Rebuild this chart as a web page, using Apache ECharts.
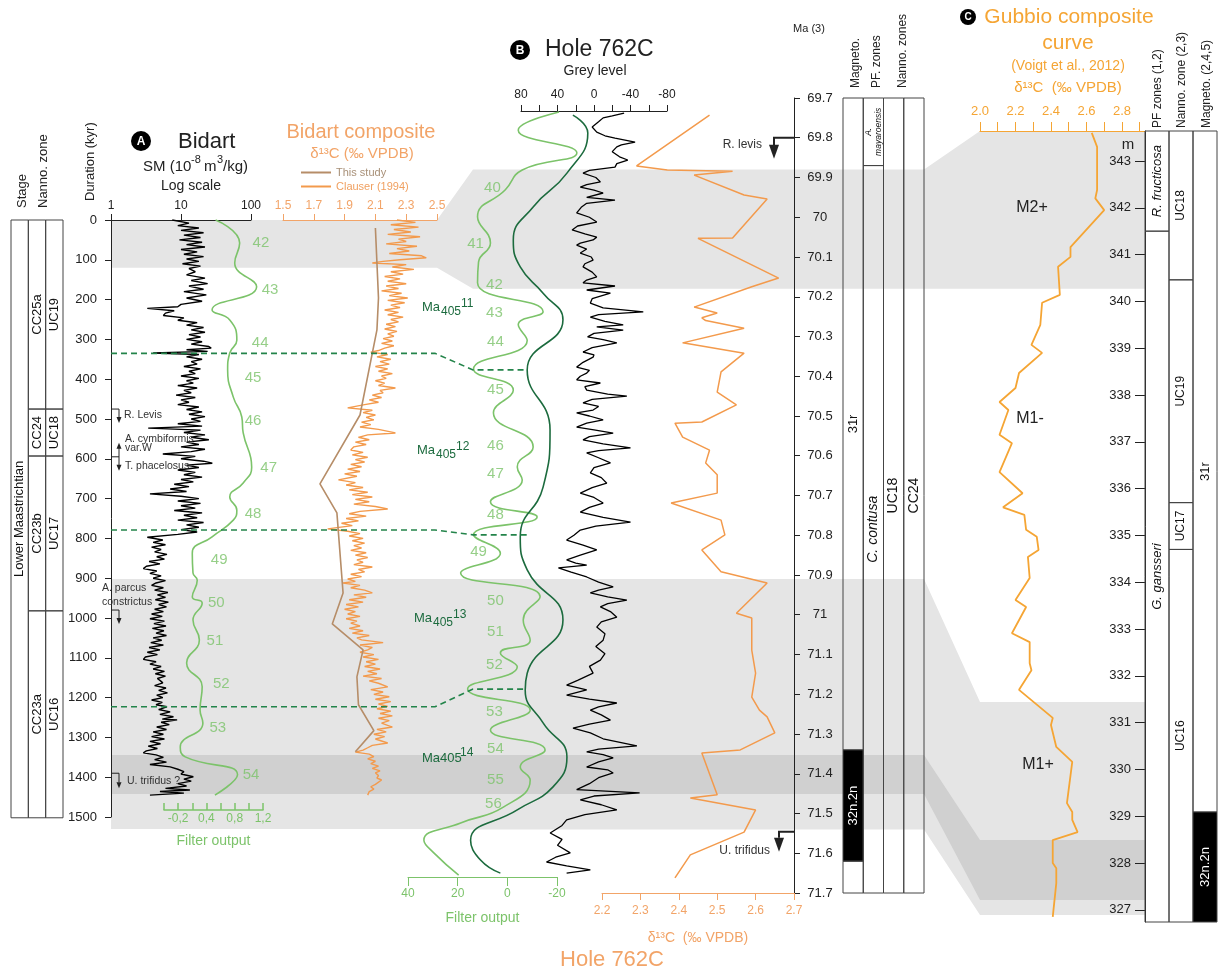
<!DOCTYPE html>
<html>
<head>
<meta charset="utf-8">
<script src="https://cdn.jsdelivr.net/npm/echarts@6/dist/echarts.min.js"></script>
<style>
  html, body { margin: 0; padding: 0; background: #fff; }
  #chart { width: 1218px; height: 976px; }
</style>
</head>
<body>
<div id="chart"></div>
<script>
// ---------- Bidart (panel A), depth in kyr ----------
const smBidart = [[0,7.5],[8,13],[14,9],[20,18],[26,10],[32,21],[38,11],[44,19],[50,9.5],[56,20],[62,12],[68,22],[74,10],[80,17],[86,11],[92,21],[98,12],[104,18],[110,10.5],[116,19],[122,13],[130,16],[138,12],[146,22],[152,14],[160,24],[166,13],[174,21],[180,11],[188,23],[196,12],[204,20],[212,10],[218,9],[222,3.3],[228,8],[234,6],[240,5.6],[246,11],[252,9],[258,17],[264,12],[270,21],[276,14],[282,22],[288,13],[294,19],[300,12],[306,20],[312,14],[318,25],[322,27],[326,12],[330,24],[334,4.0],[338,18],[344,12],[350,20],[356,14],[362,17],[368,11],[374,19],[380,13],[386,16],[392,10],[398,18],[404,12],[410,15],[416,9],[422,17],[428,11],[434,14],[440,8.5],[446,16],[452,10],[458,13],[464,9],[470,18],[476,12],[482,20],[488,13],[494,22],[500,14],[506,19],[512,9],[518,20],[523,3.4],[528,19],[534,11],[540,22],[546,14],[552,25],[558,12],[564,18],[570,10],[576,22],[582,14],[588,5.5],[594,16],[600,10],[606,21],[611,28],[616,12],[622,18],[628,9],[634,16],[640,11],[646,20],[652,10],[658,15],[664,8],[670,13],[676,7],[682,12],[688,3.6],[694,10],[700,18],[706,9],[712,19],[718,10],[724,16],[730,8],[736,20],[742,11],[748,17],[754,9],[760,21],[766,12],[772,18],[778,10],[784,17],[790,9],[797,3.3],[804,5.5],[810,4],[816,6],[822,3.8],[828,5.2],[834,4.2],[840,6.3],[846,4.5],[852,5.8],[858,3.5],[864,5],[870,3.2],[876,2.9],[882,4.5],[888,3.6],[894,5.2],[900,4],[906,6],[912,4.4],[918,3.8],[924,5.6],[930,4.2],[936,6.5],[942,4.6],[948,6],[954,4.3],[960,6.6],[966,4.8],[972,6.2],[978,4.2],[984,5.6],[990,3.8],[996,5.4],[1002,3.6],[1008,5.8],[1014,4.1],[1020,6.1],[1026,3.9],[1032,5.7],[1038,4.4],[1044,6.2],[1050,4],[1056,5.3],[1062,3.7],[1068,5.6],[1074,3.5],[1080,5],[1086,3.3],[1092,4.6],[1098,3.1],[1104,2.9],[1110,4.4],[1116,3.6],[1122,5.2],[1128,4],[1134,5.8],[1140,4.3],[1146,6],[1152,4.6],[1158,5.1],[1163,5.5],[1170,4.2],[1176,6.1],[1182,4.8],[1188,6.4],[1194,4.5],[1200,5.5],[1206,3.8],[1212,5.4],[1218,4.4],[1223,6.3],[1230,4.8],[1236,7],[1242,5],[1248,7.8],[1254,5.4],[1256,8.8],[1262,5.2],[1268,6.8],[1274,4.5],[1280,6.2],[1286,4],[1292,5.6],[1298,3.8],[1304,5.8],[1310,3.6],[1316,5.1],[1322,3.4],[1328,4.6],[1334,3.2],[1339,2.9],[1344,4.4],[1350,5.6],[1356,4.2],[1362,6.2],[1368,3.6],[1374,7],[1380,9],[1386,11],[1392,10],[1399,15],[1405,11],[1410,14],[1416,9],[1422,12],[1428,6],[1432,13.4],[1436,5],[1440,11],[1445,3.6]];

const filterBidart = [[0,0.33],[58,0.67],[108,0.60],[168,0.91],[226,0.28],[251,0.53],[302,0.63],[334,0.53],[377,0.50],[445,0.58],[495,0.70],[535,0.72],[621,0.84],[661,0.72],[696,0.53],[729,0.63],[754,0.58],[796,0.28],[837,0.00],[887,0.01],[905,0.07],[947,0.00],[962,0.14],[1005,0.01],[1055,0.10],[1113,-0.08],[1173,0.14],[1231,0.11],[1264,0.15],[1324,-0.17],[1349,-0.10],[1394,0.64],[1445,0.32]];
const filterTicksA = ['', '-0,2', '', '0,4', '', '0,8', '', '1,2'];
const cycleNumA = ['42','43','44','45','46','47','48','49','50','51','52','53','54'];
const cycleXA   = [0.97,1.10,0.96,0.86,0.86,1.08,0.86,0.38,0.34,0.32,0.41,0.36,0.83];
const cycleKyrA = [58,176,309,397,505,623,739,854,962,1058,1166,1276,1394];

const d13cThisStudy = [[20,2.10],[196,2.12],[276,2.11],[490,2.00],[663,1.74],[736,1.85],[937,1.89],[1015,1.82],[1080,2.02],[1148,1.98],[1218,1.99],[1283,2.09],[1336,1.97]];
const d13cClauser = [[0,2.24],[6,2.36],[12,2.20],[18,2.38],[24,2.22],[30,2.33],[36,2.18],[42,2.39],[48,2.25],[54,2.30],[60,2.17],[66,2.37],[72,2.24],[78,2.32],[84,2.19],[90,2.40],[95,2.43],[100,2.26],[104,2.15],[108,2.08],[112,2.30],[118,2.21],[124,2.35],[130,2.20],[136,2.28],[142,2.16],[148,2.26],[154,2.18],[160,2.30],[166,2.17],[172,2.25],[178,2.14],[184,2.27],[190,2.19],[196,2.31],[202,2.18],[208,2.29],[214,2.20],[220,2.26],[226,2.16],[232,2.25],[238,2.18],[244,2.28],[250,2.20],[256,2.25],[262,2.17],[268,2.23],[274,2.16],[280,2.24],[286,2.18],[292,2.22],[298,2.15],[304,2.21],[310,2.14],[316,2.22],[322,2.16],[328,2.12],[332,2.07],[338,2.18],[344,2.11],[350,2.20],[356,2.13],[362,2.19],[368,2.10],[374,2.18],[380,2.12],[386,2.21],[392,2.14],[398,2.17],[404,2.10],[410,2.16],[416,2.12],[422,2.23],[428,2.13],[434,2.15],[440,2.08],[446,2.14],[452,2.06],[458,2.12],[464,2.03],[472,1.92],[478,2.08],[484,2.02],[490,2.10],[496,2.04],[502,2.09],[508,2.01],[514,2.07],[520,2.00],[526,2.12],[535,2.23],[540,2.05],[546,1.99],[552,2.06],[558,1.97],[564,2.04],[570,1.96],[578,1.94],[584,2.02],[590,1.95],[596,2.05],[602,1.97],[608,2.03],[614,1.94],[620,2.01],[626,1.92],[632,2.00],[638,1.90],[644,1.98],[653,1.86],[660,1.97],[666,1.91],[672,2.02],[678,1.93],[684,2.05],[690,1.95],[696,2.08],[702,1.97],[708,2.06],[714,1.96],[720,2.10],[726,2.18],[732,2.00],[738,1.93],[744,2.04],[750,1.91],[756,1.99],[762,1.88],[768,1.95],[776,1.79],[782,1.92],[788,2.00],[794,1.93],[800,2.02],[806,1.95],[812,2.03],[818,1.96],[824,2.01],[830,1.94],[836,2.04],[842,1.97],[848,2.05],[854,1.98],[860,2.02],[866,1.96],[872,2.08],[878,1.99],[884,2.03],[890,1.94],[896,2.01],[902,1.92],[908,1.97],[912,1.89],[918,2.00],[924,1.94],[930,2.03],[937,2.08],[942,1.96],[948,2.04],[954,1.93],[960,2.02],[966,1.91],[972,1.99],[978,1.90],[984,1.97],[990,1.92],[996,2.00],[1002,1.91],[1008,1.98],[1013,1.94],[1020,2.00],[1026,1.93],[1032,2.02],[1038,1.95],[1044,2.06],[1050,1.98],[1055,2.01],[1062,2.15],[1068,2.00],[1074,2.08],[1080,2.05],[1086,2.00],[1092,2.09],[1098,2.02],[1104,2.12],[1110,2.04],[1116,2.10],[1122,2.03],[1128,2.13],[1134,2.05],[1140,2.11],[1146,2.02],[1152,2.14],[1158,2.06],[1164,2.12],[1173,2.18],[1180,2.07],[1186,2.15],[1192,2.09],[1198,2.19],[1204,2.10],[1210,2.20],[1216,2.12],[1222,2.18],[1228,2.11],[1234,2.20],[1240,2.13],[1246,2.21],[1252,2.12],[1258,2.19],[1264,2.14],[1274,2.21],[1280,2.11],[1286,2.17],[1292,2.09],[1298,2.16],[1304,2.10],[1314,2.18],[1320,2.08],[1326,2.05],[1332,2.02],[1337,1.97],[1342,2.06],[1348,2.09],[1354,2.05],[1360,2.10],[1366,2.07],[1372,2.12],[1378,2.08],[1384,2.13],[1389,2.10],[1396,2.12],[1402,2.11],[1407,2.14],[1412,2.15],[1418,2.10],[1424,2.07],[1430,2.09],[1436,2.06],[1440,2.05],[1445,2.05]];

// [column, top, base, label, style, fontSize]
const stratBidart = [
  [0, 0, 1502, 'Lower Maastrichtian', 'plain', 13],
  [1, 0, 475, 'CC25a', 'plain', 13], [1, 475, 593, 'CC24', 'plain', 13],
  [1, 593, 982, 'CC23b', 'plain', 13], [1, 982, 1502, 'CC23a', 'plain', 13],
  [2, 0, 475, 'UC19', 'plain', 13], [2, 475, 593, 'UC18', 'plain', 13],
  [2, 593, 982, 'UC17', 'plain', 13], [2, 982, 1502, 'UC16', 'plain', 13]
];

// ---------- Hole 762C (panel B), age in Ma ----------
const greyLevel762C = [[69.738,-33],[69.745,-20],[69.750,-10],[69.760,-5],[69.773,2],[69.786,-3],[69.795,-12],[69.801,-23],[69.811,-45],[69.818,-30],[69.823,-25],[69.835,-20],[69.848,-28],[69.856,-37],[69.865,-25],[69.874,-23],[69.882,5],[69.889,12],[69.900,-2],[69.911,-7],[69.918,8],[69.924,15],[69.932,0],[69.939,-10],[69.950,8],[69.957,-23],[69.965,8],[69.975,14],[69.989,19],[70.000,5],[70.012,-3],[70.022,18],[70.032,24],[70.042,10],[70.050,-3],[70.057,1],[70.065,15],[70.070,19],[70.080,8],[70.090,15],[70.100,3],[70.108,1],[70.117,10],[70.125,12],[70.138,2],[70.150,-3],[70.158,8],[70.165,12],[70.173,-23],[70.183,8],[70.191,-18],[70.205,2],[70.216,4],[70.228,-10],[70.238,-54],[70.245,-5],[70.251,4],[70.262,-12],[70.271,-32],[70.276,-3],[70.284,-32],[70.292,0],[70.301,7],[70.308,-10],[70.316,-25],[70.328,2],[70.339,12],[70.346,0],[70.352,1],[70.365,12],[70.377,19],[70.385,5],[70.392,8],[70.400,15],[70.409,19],[70.417,-7],[70.426,10],[70.435,8],[70.445,-15],[70.450,-36],[70.458,2],[70.467,12],[70.476,-5],[70.485,1],[70.492,19],[70.500,5],[70.510,-10],[70.518,8],[70.528,19],[70.535,0],[70.543,-21],[70.552,5],[70.560,12],[70.570,-10],[70.580,-40],[70.587,-5],[70.593,8],[70.605,-5],[70.618,-18],[70.630,0],[70.643,4],[70.655,-8],[70.669,-14],[70.680,2],[70.694,15],[70.705,0],[70.719,-10],[70.730,5],[70.742,15],[70.755,-10],[70.767,-40],[70.777,-2],[70.787,15],[70.800,22],[70.812,30],[70.825,12],[70.837,-3],[70.850,15],[70.862,30],[70.870,20],[70.875,8],[70.882,39],[70.893,25],[70.905,8],[70.918,-5],[70.930,-21],[70.938,-5],[70.945,4],[70.955,-15],[70.963,-36],[70.972,-15],[70.980,-7],[70.992,-18],[71.006,-25],[71.018,-8],[71.031,-3],[71.048,-12],[71.064,-10],[71.080,-2],[71.098,-12],[71.114,-7],[71.130,5],[71.147,1],[71.165,18],[71.177,30],[71.189,8],[71.202,30],[71.212,5],[71.222,-25],[71.232,-5],[71.240,4],[71.252,-8],[71.265,-18],[71.275,5],[71.285,23],[71.297,4],[71.312,-10],[71.330,-47],[71.338,-5],[71.345,8],[71.352,-10],[71.360,-21],[71.370,-5],[71.383,8],[71.390,-15],[71.398,-21],[71.410,-5],[71.425,5],[71.440,19],[71.448,-50],[71.456,0],[71.466,15],[71.478,-8],[71.491,-25],[71.503,10],[71.516,30],[71.530,35],[71.549,48],[71.565,35],[71.580,40],[71.599,26],[71.610,42],[71.622,52],[71.632,30],[71.642,4],[71.650,30]];

const filterShort762C = [[69.735,-20.8],[69.781,-4.4],[69.838,-28],[69.881,-6],[69.931,0.8],[69.999,12],[70.065,6.8],[70.113,11.6],[70.165,12],[70.238,-14.4],[70.270,-4.4],[70.310,-8],[70.382,13.6],[70.435,-2.4],[70.492,5.6],[70.578,-10.4],[70.628,-4],[70.661,-6],[70.716,6.8],[70.754,-12],[70.799,13.6],[70.845,2.8],[70.895,18.8],[70.955,-13.2],[71.013,-6.4],[71.064,-9.2],[71.096,2.8],[71.131,-4],[71.187,16],[71.240,-9.2],[71.290,6.8],[71.340,-15.2],[71.383,-5.2],[71.416,-9.2],[71.484,1.6],[71.524,18.8],[71.567,33.6],[71.599,29.6],[71.655,19.6]];
const filter405k762C = [[69.743,-26.4],[69.788,-32.4],[69.889,-24],[69.974,-10.4],[70.057,-2.4],[70.125,-5.2],[70.191,-14.4],[70.258,-22.4],[70.384,-8],[70.535,-17.2],[70.679,-14.4],[70.804,-5.2],[70.887,-8],[71.013,-22.4],[71.147,-8],[71.189,-7.2],[71.272,-14.4],[71.358,-24],[71.433,-18.4],[71.491,-4],[71.567,14.8],[71.617,10.8],[71.650,2.8]];
const cycleNumB = ['40','41','42','43','44','45','46','47','48','49','50','51','52','53','54','55','56'];
const cycleXB   = [6,12.8,5.2,5.2,4.8,4.8,4.8,4.8,4.8,11.6,4.8,4.8,5.2,5.2,4.8,4.8,5.6];
const cycleMaB  = [69.926,70.067,70.170,70.241,70.314,70.435,70.575,70.646,70.749,70.842,70.965,71.043,71.126,71.245,71.338,71.416,71.476];

const d13c762C = [[69.743,2.48],[69.871,2.29],[69.881,2.37],[69.884,2.54],[69.894,2.44],[69.944,2.57],[69.954,2.63],[70.052,2.54],[70.053,2.45],[70.153,2.66],[70.175,2.59],[70.226,2.44],[70.241,2.50],[70.253,2.46],[70.260,2.47],[70.279,2.57],[70.316,2.41],[70.342,2.57],[70.389,2.51],[70.440,2.50],[70.472,2.55],[70.515,2.46],[70.518,2.39],[70.553,2.41],[70.586,2.48],[70.618,2.47],[70.648,2.50],[70.694,2.50],[70.719,2.38],[70.762,2.51],[70.799,2.52],[70.837,2.46],[70.892,2.51],[70.920,2.63],[70.996,2.55],[71.008,2.59],[71.089,2.59],[71.147,2.60],[71.207,2.59],[71.240,2.61],[71.257,2.63],[71.297,2.65],[71.340,2.56],[71.348,2.46],[71.453,2.50],[71.461,2.43],[71.491,2.60],[71.547,2.57],[71.604,2.43],[71.662,2.39]];

const strat762C = [
  [0, 69.7, 71.34, '31r', 'plain', 13], [0, 71.34, 71.62, '32n.2n', 'black', 13], [0, 71.62, 71.7, '', 'plain', 13],
  [1, 69.7, 69.87, 'A.\nmayaroensis', 'italic', 8.5], [1, 69.87, 71.7, 'C. contusa', 'italic', 14],
  [2, 69.7, 71.7, 'UC18', 'plain', 14], [3, 69.7, 71.7, 'CC24', 'plain', 14]
];

// ---------- Gubbio (panel C), depth in m ----------
const d13cGubbio = [[343.6,2.63],[343.3,2.66],[342.38,2.66],[342.2,2.65],[341.95,2.70],[341.16,2.51],[340.95,2.51],[340.74,2.44],[340.14,2.45],[339.97,2.35],[339.5,2.34],[339.07,2.29],[338.9,2.35],[338.47,2.22],[338.15,2.20],[337.85,2.11],[337.68,2.16],[337.15,2.11],[336.97,2.18],[336.35,2.11],[335.9,2.24],[335.6,2.13],[335.44,2.25],[335.12,2.26],[334.97,2.32],[334.69,2.33],[334.54,2.27],[334.09,2.28],[333.62,2.20],[333.47,2.26],[332.91,2.18],[332.72,2.28],[332.27,2.28],[332.12,2.29],[331.7,2.22],[331.1,2.41],[330.95,2.40],[330.48,2.43],[330.16,2.52],[329.28,2.49],[329.09,2.52],[328.92,2.52],[328.66,2.55],[328.49,2.41],[328.0,2.41],[327.89,2.43],[327.57,2.43],[326.85,2.41]];
const metreTicks = [327,328,329,330,331,332,333,334,335,336,337,338,339,340,341,342,343];
const gubbioTicks = [2.0,2.1,2.2,2.3,2.4,2.5,2.6,2.7,2.8,2.9];
const gubbioLabels = [2.0,2.2,2.4,2.6,2.8];

const stratGubbio = [
  [0, 343.64, 341.5, 'R. fructicosa', 'italic', 13], [0, 341.5, 326.74, 'G. gansseri', 'italic', 13],
  [1, 343.64, 340.46, 'UC18', 'plain', 12], [1, 340.46, 335.7, 'UC19', 'plain', 12],
  [1, 335.7, 334.7, 'UC17', 'plain', 12], [1, 334.7, 326.74, 'UC16', 'plain', 12],
  [2, 343.64, 329.09, '31r', 'plain', 13], [2, 329.09, 326.74, '32n.2n', 'black', 13]
];

// ---------- correlations ----------
const bandBidart = [[0, 120], [902, 1530], [1344, 1442]];
const band762C   = [[69.88, 70.18], [70.91, 71.54], [71.353, 71.451]];
const bandGubbio = [[343.64, 340.27], [331.44, 326.89], [328.49, 327.21]];
const bandColor  = ['#e5e5e5', '#e5e5e5', '#d0d0d0'];
const tieBidart = [335, 779, 1223];
const tie762C   = [70.384, 70.799, 71.187];

const F = '"Liberation Sans", Arial, sans-serif';
const INK = '#222';
const GREEN_L = '#7cc36a';
const GREEN_D = '#1c6b3e';
const ORANGE = '#f39a4c';
const ORANGE_AX = '#f2a468';
const BROWN = '#b68d68';
const GUBBIO = '#f5a534';

const chart = echarts.init(document.getElementById('chart'));

function stratRenderer(zones) {
  return function (params, api) {
    const z = zones[params.dataIndex];
    const p0 = api.coord([z[0], z[1]]);
    const p1 = api.coord([z[0] + 1, z[2]]);
    const x = Math.min(p0[0], p1[0]), y = Math.min(p0[1], p1[1]);
    const w = Math.abs(p1[0] - p0[0]), h = Math.abs(p1[1] - p0[1]);
    const dark = z[4] === 'black';
    return {
      type: 'group',
      children: [
        { type: 'rect', shape: { x: x, y: y, width: w, height: h },
          style: { fill: dark ? '#000' : 'none', stroke: '#444', lineWidth: 1 } },
        { type: 'text', x: x + w / 2, y: y + h / 2, rotation: Math.PI / 2,
          style: { text: z[3], fontSize: z[5], fontFamily: F, fontStyle: z[4] === 'italic' ? 'italic' : 'normal',
                   fill: dark ? '#fff' : '#111', align: 'center', verticalAlign: 'middle', lineHeight: 10 } }
      ]
    };
  };
}

const noSplit = { splitLine: { show: false } };
function hidden(grid, min, max, inverse) {
  return Object.assign({ gridIndex: grid, type: 'value', min: min, max: max, inverse: !!inverse, show: false }, noSplit);
}
function line1(color, w) { return { onZero: false, lineStyle: { color: color, width: w || 1 } }; }

// the B filter curves swing past the drawn -20..40 axis, so they are plotted on a wider
// hidden axis with the same scale (149 px per 60 units)
const bFilterScale = 149 / 60;

const option = {
  animation: false,
  textStyle: { fontFamily: F },
  legend: {
    data: [{ name: 'This study', textStyle: { color: '#a89078' } }, { name: 'Clauser (1994)', textStyle: { color: '#f0a060' } }],
    orient: 'vertical', left: 296, top: 162, itemWidth: 30, itemHeight: 2, itemGap: 3, icon: 'rect',
    textStyle: { fontSize: 11, fontFamily: F }, selectedMode: false
  },
  grid: [
    { left: 11, top: 220, width: 52, height: 597 },
    { left: 111, top: 220, width: 140, height: 597 },
    { left: 164, top: 220, width: 99, height: 597 },
    { left: 283, top: 220, width: 154, height: 597 },
    { left: 408, top: 98, width: 149, height: 795 },
    { left: 521, top: 98, width: 146, height: 795 },
    { left: 602, top: 98, width: 192, height: 795 },
    { left: 843, top: 98, width: 81, height: 795 },
    { left: 980, top: 131, width: 165, height: 791 },
    { left: 1145, top: 131, width: 72, height: 791 },
    { left: 408 - 20 * bFilterScale, top: 98, width: 100 * bFilterScale, height: 795 }
  ],
  xAxis: [
    hidden(0, 0, 3),
    Object.assign({ gridIndex: 1, type: 'log', logBase: 10, min: 1, max: 100, position: 'top',
      axisLine: line1(INK), axisTick: { length: 6, lineStyle: { color: INK } },
      minorTick: { show: false }, axisLabel: { color: INK, fontSize: 12, margin: 8 } }, noSplit),
    Object.assign({ gridIndex: 2, type: 'value', min: -0.4, max: 1.0, interval: 0.2, position: 'bottom', offset: -7,
      axisLine: line1(GREEN_L, 1.5), axisTick: { inside: true, length: 7, lineStyle: { color: GREEN_L, width: 1.5 } },
      axisLabel: { color: GREEN_L, fontSize: 12, margin: 3, formatter: v => filterTicksA[Math.round((v + 0.4) / 0.2)] || '' },
      name: 'Filter output', nameLocation: 'middle', nameGap: 24, nameTextStyle: { color: GREEN_L, fontSize: 14 } }, noSplit),
    Object.assign({ gridIndex: 3, type: 'value', min: 1.5, max: 2.5, interval: 0.2, position: 'top',
      axisLine: line1(ORANGE_AX), axisTick: { length: 6, lineStyle: { color: ORANGE_AX } },
      axisLabel: { color: ORANGE_AX, fontSize: 12, margin: 8, formatter: v => v.toFixed(1) } }, noSplit),
    Object.assign({ gridIndex: 4, type: 'value', min: -20, max: 40, interval: 20, inverse: true, position: 'bottom', offset: -16,
      axisLine: line1(GREEN_L), axisTick: { length: 9, lineStyle: { color: GREEN_L } },
      axisLabel: { color: GREEN_L, fontSize: 12, margin: 11 },
      name: 'Filter output', nameLocation: 'middle', nameGap: 34, nameTextStyle: { color: GREEN_L, fontSize: 14 } }, noSplit),
    Object.assign({ gridIndex: 5, type: 'value', min: -80, max: 80, interval: 20, inverse: true, position: 'top', offset: -13,
      axisLine: line1(INK), axisTick: { length: 6, lineStyle: { color: INK } },
      axisLabel: { color: INK, fontSize: 12, margin: 10, formatter: v => (Math.round(v) % 40 === 0 ? String(Math.round(v)) : '') } }, noSplit),
    Object.assign({ gridIndex: 6, type: 'value', min: 2.2, max: 2.7, interval: 0.1, position: 'bottom',
      axisLine: line1(ORANGE_AX), axisTick: { length: 7, lineStyle: { color: ORANGE_AX } },
      axisLabel: { color: ORANGE_AX, fontSize: 12, margin: 12, formatter: v => v.toFixed(1) },
      name: 'δ¹³C  (‰ VPDB)', nameLocation: 'middle', nameGap: 38, nameTextStyle: { color: ORANGE_AX, fontSize: 14 } }, noSplit),
    hidden(7, 0, 4),
    Object.assign({ gridIndex: 8, type: 'value', min: 2.0, max: 2.93, position: 'top',
      axisLine: line1(GUBBIO), axisTick: { length: 9, customValues: gubbioTicks, lineStyle: { color: GUBBIO } },
      axisLabel: { color: GUBBIO, fontSize: 13, margin: 13, customValues: gubbioLabels, formatter: v => v.toFixed(1) } }, noSplit),
    hidden(9, 0, 3),
    hidden(10, -40, 60, true)
  ],
  yAxis: [
    hidden(0, 0, 1500, true),
    Object.assign({ gridIndex: 1, type: 'value', min: 0, max: 1500, interval: 100, inverse: true, position: 'left',
      axisLine: Object.assign({ show: true }, line1(INK)), axisTick: { show: true, length: 6, lineStyle: { color: INK } },
      axisLabel: { color: INK, fontSize: 13, margin: 14, formatter: v => String(Math.round(v)) } }, noSplit),
    hidden(2, 0, 1500, true),
    hidden(3, 0, 1500, true),
    hidden(4, 69.7, 71.7, true),
    hidden(5, 69.7, 71.7, true),
    Object.assign({ gridIndex: 6, type: 'value', min: 69.7, max: 71.7, interval: 0.1, inverse: true, position: 'right',
      axisLine: Object.assign({ show: true }, line1(INK)), axisTick: { show: true, length: 6, lineStyle: { color: INK } },
      axisLabel: { color: INK, fontSize: 13, margin: 26, align: 'center', formatter: v => String(Math.round(v * 10) / 10) } }, noSplit),
    hidden(7, 69.7, 71.7, true),
    Object.assign({ gridIndex: 8, type: 'value', min: 326.74, max: 343.64, position: 'right',
      axisLine: Object.assign({ show: true }, line1(INK)),
      axisTick: { show: true, inside: true, length: 10, customValues: metreTicks, lineStyle: { color: INK } },
      axisLabel: { color: INK, fontSize: 13, inside: true, margin: 14, customValues: metreTicks } }, noSplit),
    hidden(9, 326.74, 343.64),
    hidden(10, 69.7, 71.7, true)
  ],
  series: [
    { type: 'custom', xAxisIndex: 0, yAxisIndex: 0, renderItem: stratRenderer(stratBidart),
      data: stratBidart.map(z => [z[0], z[1], z[2]]), silent: true },
    { type: 'line', name: 'SM', xAxisIndex: 1, yAxisIndex: 1, showSymbol: false, clip: false,
      lineStyle: { color: '#000', width: 1.4 }, data: smBidart.map(d => [d[1], d[0]]) },
    { type: 'line', name: 'Filter A', xAxisIndex: 2, yAxisIndex: 2, showSymbol: false, clip: false, smooth: 0.5,
      lineStyle: { color: GREEN_L, width: 1.6 }, data: filterBidart.map(d => [d[1], d[0]]) },
    { type: 'scatter', xAxisIndex: 2, yAxisIndex: 2, symbolSize: 1, clip: false, silent: true,
      itemStyle: { color: 'rgba(0,0,0,0)' },
      label: { show: true, position: 'inside', formatter: '{b}', color: GREEN_L, fontSize: 15, fontFamily: F },
      data: cycleNumA.map((n, i) => ({ name: n, value: [cycleXA[i], cycleKyrA[i]] })) },
    { type: 'line', name: 'This study', xAxisIndex: 3, yAxisIndex: 3, showSymbol: false, clip: false,
      color: BROWN, lineStyle: { color: BROWN, width: 1.6 }, data: d13cThisStudy.map(d => [d[1], d[0]]), z: 4 },
    { type: 'line', name: 'Clauser (1994)', xAxisIndex: 3, yAxisIndex: 3, showSymbol: false, clip: false,
      color: ORANGE, lineStyle: { color: ORANGE, width: 1.4 }, data: d13cClauser.map(d => [d[1], d[0]]) },
    { type: 'line', name: 'Filter B short', xAxisIndex: 10, yAxisIndex: 10, showSymbol: false, smooth: 0.5,
      lineStyle: { color: GREEN_L, width: 1.6 }, data: filterShort762C.map(d => [d[1], d[0]]) },
    { type: 'line', name: 'Filter B 405', xAxisIndex: 10, yAxisIndex: 10, showSymbol: false, smooth: 0.5,
      lineStyle: { color: GREEN_D, width: 1.6 }, data: filter405k762C.map(d => [d[1], d[0]]) },
    { type: 'scatter', xAxisIndex: 10, yAxisIndex: 10, symbolSize: 1, silent: true,
      itemStyle: { color: 'rgba(0,0,0,0)' },
      label: { show: true, position: 'inside', formatter: '{b}', color: GREEN_L, fontSize: 15, fontFamily: F },
      data: cycleNumB.map((n, i) => ({ name: n, value: [cycleXB[i], cycleMaB[i]] })) },
    { type: 'line', name: 'Grey level', xAxisIndex: 5, yAxisIndex: 5, showSymbol: false, clip: false,
      lineStyle: { color: '#000', width: 1.3 }, data: greyLevel762C.map(d => [d[1], d[0]]) },
    { type: 'line', name: 'd13C 762C', xAxisIndex: 6, yAxisIndex: 6, showSymbol: false, clip: false,
      lineStyle: { color: ORANGE, width: 1.5 }, data: d13c762C.map(d => [d[1], d[0]]) },
    { type: 'custom', xAxisIndex: 7, yAxisIndex: 7, renderItem: stratRenderer(strat762C),
      data: strat762C.map(z => [z[0], z[1], z[2]]), silent: true },
    { type: 'line', name: 'Gubbio', xAxisIndex: 8, yAxisIndex: 8, showSymbol: false, clip: false,
      lineStyle: { color: GUBBIO, width: 1.8 }, data: d13cGubbio.map(d => [d[1], d[0]]) },
    { type: 'custom', xAxisIndex: 9, yAxisIndex: 9, renderItem: stratRenderer(stratGubbio),
      data: stratGubbio.map(z => [z[0], z[1], z[2]]), silent: true }
  ]
};

chart.setOption(option);

// ---------- annotations placed through the axes' own scales ----------
const yA = v => chart.convertToPixel({ yAxisIndex: 1 }, v);
const yB = v => chart.convertToPixel({ yAxisIndex: 6 }, v);
const yC = v => chart.convertToPixel({ yAxisIndex: 8 }, v);

function txt(s, x, y, size, color, align, weight) {
  return { type: 'text', x: x, y: y, z: 20,
    style: { text: s, fontSize: size, fontFamily: F, fill: color || INK, align: align || 'center', verticalAlign: 'middle', fontWeight: weight || 'normal' } };
}
function rot(s, x, yBottom, size) {
  return { type: 'text', x: x, y: yBottom, rotation: Math.PI / 2, z: 20,
    style: { text: s, fontSize: size, fontFamily: F, fill: INK, align: 'left', verticalAlign: 'middle' } };
}
function badge(x, y, r, s) {
  return [{ type: 'circle', z: 20, shape: { cx: x, cy: y, r: r }, style: { fill: '#000' } },
          txt(s, x, y + 0.5, Math.round(r * 1.2), '#fff', 'center', 'bold')];
}
function line(pts, color, width, dash) {
  return { type: 'polyline', z: 15, shape: { points: pts }, style: { stroke: color || INK, lineWidth: width || 1, lineDash: dash || null, fill: null } };
}
function head(x, y, dir, w, l) {
  const s = dir === 'up' ? -1 : 1;
  return { type: 'polygon', z: 15, shape: { points: [[x - w, y - s * l], [x + w, y - s * l], [x, y]] }, style: { fill: INK } };
}
function maLabel(x, y, n, sub) {
  const c = GREEN_D;
  if (sub) {
    return [txt('Ma', x, y, 13, c, 'left'), txt('405', x + 19, y + 5, 12, c, 'left'), txt(n, x + 39, y - 3, 12, c, 'left')];
  }
  return [txt('Ma405', x, y, 13, c, 'left'), txt(n, x + 38, y - 5, 12, c, 'left')];
}

const g = [];
// grey correlation bands
bandBidart.forEach((b, i) => {
  const a0 = yA(b[0]), a1 = yA(b[1]);
  const b0 = yB(band762C[i][0]), b1 = yB(band762C[i][1]);
  const c0 = yC(bandGubbio[i][0]), c1 = yC(bandGubbio[i][1]);
  g.push({ type: 'polygon', z: -1, silent: true,
    shape: { points: [[111, a0], [437, a0], [473, b0], [924, b0], [980, c0], [1145, c0], [1145, c1], [980, c1], [924, b1], [473, b1], [437, a1], [111, a1]] },
    style: { fill: bandColor[i] } });
});
// dashed tie lines
tieBidart.forEach((k, i) => {
  const a = yA(k), b = yB(tie762C[i]);
  g.push(line([[111, a], [435, a], [473, b], [527, b]], '#23844a', 1.6, [6, 4]));
});

// headers, titles
g.push(rot('Stage', 22, 208, 13), rot('Nanno. zone', 43, 208, 13), rot('Duration (kyr)', 90, 201, 13));
g.push(...badge(141, 141, 10, 'A'));
g.push(txt('Bidart', 178, 142, 22, INK, 'left'));
g.push(txt('SM (10', 143, 167, 15, INK, 'left'), txt('-8', 191, 160, 11, INK, 'left'), txt('m', 204, 167, 15, INK, 'left'),
       txt('3', 217, 160, 11, INK, 'left'), txt('/kg)', 223, 167, 15, INK, 'left'));
g.push(txt('Log scale', 191, 186, 14));
g.push(txt('Bidart composite', 361, 132, 20, ORANGE_AX), txt('δ¹³C (‰ VPDB)', 362, 154, 15, ORANGE_AX));
g.push(...badge(520, 50, 10, 'B'));
g.push(txt('Hole 762C', 545, 50, 23, INK, 'left'), txt('Grey level', 595, 71, 14));
g.push(txt('Ma (3)', 809, 29, 11));
g.push(rot('Magneto.', 856, 88, 12), rot('PF. zones', 877, 88, 12), rot('Nanno. zones', 903, 88, 12));
g.push(...badge(968, 17, 8, 'C'));
g.push(txt('Gubbio composite', 1069, 17, 21, GUBBIO), txt('curve', 1068, 43, 21, GUBBIO),
       txt('(Voigt et al., 2012)', 1068, 66, 14, GUBBIO), txt('δ¹³C  (‰ VPDB)', 1068, 88, 15, GUBBIO));
g.push(rot('PF zones (1,2)', 1158, 128, 12), rot('Nanno. zone (2,3)', 1182, 128, 12), rot('Magneto. (2,4,5)', 1207, 128, 12));
g.push(txt('m', 1128, 145, 15));
g.push(txt('M2+', 1032, yC(342), 16), txt('M1-', 1030, yC(337.5), 16), txt('M1+', 1038, yC(330.1), 16));
g.push(txt('Hole 762C', 612, 960, 22, ORANGE_AX));
g.push(...maLabel(422, 307, '11', true), ...maLabel(417, 450, '12', true), ...maLabel(414, 618, '13', true), ...maLabel(422, 758, '14', false));

// biostratigraphic events, Bidart
const s = 10.5;
let y = yA(475);
g.push(line([[112, y], [119, y], [119, y + 9]]), head(119, y + 14, 'down', 2.5, 6), txt('R. Levis', 124, y + 6, s, '#333', 'left'));
y = yA(595);
g.push(line([[112, y], [119, y]]), line([[119, y - 9], [119, y + 9]]), head(119, y - 14, 'up', 2.5, 6), head(119, y + 14, 'down', 2.5, 6),
       txt('A. cymbiformis', 125, y - 18, s, '#333', 'left'), txt('var.W', 125, y - 9, s, '#333', 'left'), txt('T. phacelosus', 125, y + 9, s, '#333', 'left'));
y = yA(980);
g.push(line([[112, y], [119, y], [119, y + 9]]), head(119, y + 14, 'down', 2.5, 6),
       txt('A. parcus', 102, y - 22, s, '#333', 'left'), txt('constrictus', 102, y - 8, s, '#333', 'left'));
y = yA(1390);
g.push(line([[112, y], [119, y], [119, y + 9]]), head(119, y + 15, 'down', 2.5, 6), txt('U. trifidus ?', 127, y + 8, s, '#333', 'left'));
// events, Hole 762C
y = yB(69.8);
g.push(line([[794, y], [774, y], [774, y + 8]], INK, 2), head(774, y + 21, 'down', 5, 14), txt('R. levis', 762, y + 7, 12, '#333', 'right'));
y = yB(71.546);
g.push(line([[794, y], [779, y], [779, y + 6]], INK, 2), head(779, y + 20, 'down', 5, 14), txt('U. trifidus', 770, y + 19, 12, '#333', 'right'));

chart.setOption({ graphic: { elements: g } });
</script>
</body>
</html>
